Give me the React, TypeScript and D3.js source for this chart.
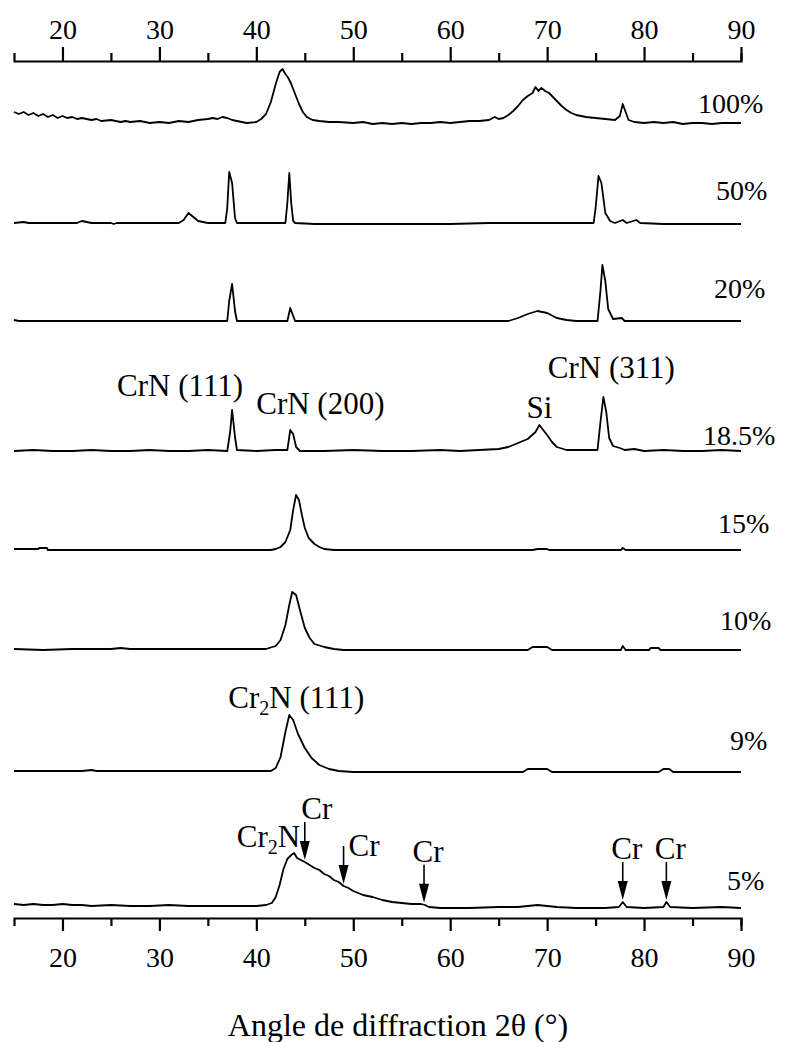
import React, { useEffect, useRef } from "react";
import * as d3 from "d3";

// diffraction angle range (2θ, degrees)
const angleDomain = [15, 90];
const majorTicks = [20, 30, 40, 50, 60, 70, 80, 90];
const minorTicks = [25, 35, 45, 55, 65, 75, 85];

const sampleLabels = ["100%", "50%", "20%", "18.5%", "15%", "10%", "9%", "5%"];

// [2θ, intensity (a.u.)]
const scan100: [number, number][] = [
  [15, 12], [15.5, 10], [16, 12], [16.5, 9], [17, 11], [17.5, 8], [18, 10], [18.5, 7], [19, 9], [19.5, 6],
  [20, 8], [20.5, 6], [21, 7], [21.5, 5], [22, 6], [23, 4], [23.5, 5], [24, 3], [25, 4], [26, 2],
  [26.5, 3], [27, 2], [28, 3], [29, 1], [30, 2], [31, 1], [32, 3], [33, 2], [34, 4], [35, 5],
  [35.5, 6], [36, 5], [36.5, 7], [37, 6], [37.5, 4], [38, 3], [39, 1], [40, 2], [40.5, 5], [41, 10],
  [41.5, 22], [42, 40], [42.4, 52], [42.7, 55], [43, 50], [43.3, 46], [43.6, 40], [44, 30], [44.4, 20], [44.8, 12],
  [45.2, 7], [45.8, 4], [46.5, 3], [47.5, 2], [48.5, 2], [50, 1], [51, 2], [52, 0], [53, 1], [54, 0],
  [55, 1], [56, 0], [57, 1], [58, 1], [59, 2], [60, 1], [61, 2], [62, 3], [63, 3], [64, 4],
  [64.6, 7], [65, 5], [65.5, 6], [66, 9], [66.5, 13], [67, 18], [67.5, 24], [68, 28], [68.5, 31], [68.8, 37],
  [69.1, 33], [69.4, 36], [69.8, 33], [70.2, 31], [70.6, 27], [71, 23], [71.5, 18], [72, 14], [72.5, 11], [73, 9],
  [73.5, 8], [74, 7], [75, 6], [76, 5], [77, 4], [77.5, 8], [77.8, 20], [78.1, 12], [78.4, 4], [79, 2],
  [80, 1], [81, 2], [82, 1], [83, 2], [84, 0], [85, 1], [86, 1], [87, 0], [88, 1], [89, 1], [90, 1],
];
const scan50: [number, number][] = [
  [15, 0], [16, 1], [16.5, 0], [21.5, 0], [22, 2], [22.5, 1], [23, 0], [25, 0], [25.3, -1], [25.6, 0],
  [32, 0], [32.5, 3], [33, 10], [33.5, 6], [34, 2], [35, 0], [36.8, 0], [37, 15], [37.2, 51], [37.5, 40],
  [37.8, 5], [38, 0], [43, 0], [43.2, 20], [43.4, 50], [43.6, 20], [43.8, 2], [44, 0], [46, -1], [50, -1],
  [60, -1], [64, 0], [66, 0], [74.8, 0], [75, 15], [75.3, 47], [75.6, 40], [76, 10], [76.5, 2], [77, 0],
  [77.8, 3], [78.2, 0], [79.2, 3], [79.6, 0], [82, -1], [86, -1], [90, -1],
];
const scan20: [number, number][] = [
  [15, 1], [15.5, 0], [37, 0], [37.2, 20], [37.5, 37], [37.8, 10], [38, 0], [43.2, 0], [43.5, 13], [43.8, 5],
  [44, 0], [66, 0], [67, 3], [68, 7], [69, 10], [70, 8], [71, 3], [72, 1], [73, 0], [75.2, 0],
  [75.5, 30], [75.7, 56], [76, 40], [76.3, 12], [76.8, 2], [77.7, 3], [78, 0], [90, 0],
];
const scan18: [number, number][] = [
  [15, 1], [17, 2], [19, 1], [21, 1], [23, 2], [25, 1], [27, 1], [29, 2], [31, 1], [33, 1],
  [35, 2], [37, 1], [37.3, 20], [37.5, 42], [37.8, 15], [38, 2], [40, 1], [42, 2], [43.2, 2], [43.5, 22],
  [43.8, 18], [44.1, 5], [44.5, 1], [47, 1], [50, 2], [53, 1], [56, 1], [59, 2], [61, 1], [63, 2],
  [65, 3], [66, 5], [67, 9], [68, 13], [68.8, 20], [69.2, 27], [69.6, 22], [70, 17], [70.5, 10], [71, 5],
  [72, 2], [75.2, 2], [75.5, 30], [75.8, 55], [76.1, 40], [76.4, 14], [76.8, 6], [77.5, 4], [78, 2], [79, 3],
  [80, 1], [82, 2], [84, 1], [86, 1], [88, 2], [90, 1],
];
const scan15: [number, number][] = [
  [15, 1], [17.5, 1], [17.6, 2], [18.4, 2], [18.5, 0], [41.5, 0], [42, 1], [42.5, 3], [43, 8], [43.5, 20],
  [43.8, 40], [44.1, 55], [44.4, 50], [44.7, 35], [45, 22], [45.4, 12], [46, 6], [46.5, 3], [47, 1], [48, 0],
  [68.5, 0], [69, 1], [70, 1], [70.2, 0], [77.6, 0], [77.8, 2], [78.1, 0], [90, 0],
];
const scan10: [number, number][] = [
  [15, 1], [18, 0], [21, 1], [25, 1], [26, 2], [27, 1], [35, 1], [41, 1], [42, 4], [42.5, 10],
  [43, 25], [43.4, 45], [43.7, 58], [44.1, 55], [44.5, 40], [45, 22], [45.5, 12], [46, 6], [47, 3], [48, 1],
  [49, 0], [68, 0], [68.5, 3], [70, 3], [70.5, 0], [77.6, 0], [77.8, 4], [78.1, 0], [80.5, 0], [80.7, 2],
  [81.5, 2], [81.7, 0], [90, 0],
];
const scan9: [number, number][] = [
  [15, 1], [22, 1], [23, 2], [23.5, 1], [41.5, 1], [42, 4], [42.5, 15], [43, 40], [43.4, 57], [43.8, 52],
  [44.3, 38], [45, 24], [45.7, 14], [46.5, 7], [47.5, 3], [48.5, 1], [50, 0], [67.5, 0], [68, 3], [70, 3],
  [70.5, 0], [81.5, 0], [82, 3], [82.6, 3], [83, 0], [90, 0],
];
const scan5: [number, number][] = [
  [15, 3], [16, 2], [17, 3], [18, 2], [19, 2], [20, 3], [21, 2], [22, 2], [23, 1], [25, 2],
  [27, 1], [29, 1], [31, 2], [33, 1], [35, 1], [37, 1], [39, 1], [40, 1], [41, 2], [41.6, 4],
  [42, 10], [42.4, 22], [42.8, 38], [43.2, 48], [43.6, 52], [43.9, 54], [44.2, 49], [44.6, 47], [45, 45], [45.5, 42],
  [46, 39], [46.5, 37], [47, 33], [47.5, 31], [48, 27], [48.5, 25], [49, 21], [49.5, 19], [50, 16], [50.5, 14],
  [51, 12], [51.5, 11], [52, 10], [53, 7], [54, 5], [55, 4], [56, 3], [57, 3], [57.4, 2], [57.8, 0],
  [59, -1], [62, -1], [65, 0], [67, 0], [68, 1], [69, 2], [70, 1], [71, 0], [73, -1], [76, -1],
  [77.4, 0], [77.8, 5], [78.2, 0], [80, -1], [82, 0], [82.3, 5], [82.7, 0], [85, -1], [88, 0], [90, -1],
];
const scans = [scan100, scan50, scan20, scan18, scan15, scan10, scan9, scan5];

// Cr reflections marked on the 5% scan with arrows
const crArrowAngles = [45, 49, 57.3, 77.8, 82.3];

// layout
const W = 785;
const H = 1042;
const xLeft = 14;
const xRight = 741;
const topAxisY = 61;
const bottomAxisY = 918;
const baselines = [124, 223, 321, 452, 550, 650, 772, 907];
const labelX = [698, 716, 714, 703, 718, 720, 730, 727];
const labelDy = [-11, -23, -23, -7, -17, -20, -22, -17];
const FONT = "'Liberation Serif', 'Times New Roman', serif";

export default function App() {
  const topRef = useRef<SVGGElement>(null);
  const bottomRef = useRef<SVGGElement>(null);

  const x = d3.scaleLinear().domain(angleDomain).range([xLeft, xRight]);
  const amp = d3.scaleLinear().domain([0, 100]).range([0, -100]);
  const line = d3
    .line<[number, number]>()
    .x((d) => x(d[0]))
    .y((d) => amp(d[1]));

  useEffect(() => {
    document.body.style.margin = "0";
    const style = (g: d3.Selection<SVGGElement, unknown, null, undefined>) => {
      g.select(".domain").attr("stroke-width", 2.2);
      g.selectAll(".tick line").attr("stroke-width", 2.2);
      g.selectAll("text").attr("font-family", FONT).attr("font-size", 28).attr("fill", "#000");
    };
    const minor = (g: d3.Selection<SVGGElement, unknown, null, undefined>) => {
      g.select(".domain").remove();
      g.selectAll(".tick line").attr("stroke-width", 2.2);
    };
    const top = d3.select(topRef.current!);
    top.selectAll("*").remove();
    top.append("g").call(
      d3.axisTop(x).tickValues(majorTicks).tickSize(14).tickSizeOuter(8).tickPadding(8).tickFormat(d3.format("d"))
    ).call(style);
    top.append("g").call(d3.axisTop(x).tickValues(minorTicks).tickSize(8).tickFormat(() => "")).call(minor);

    const bottom = d3.select(bottomRef.current!);
    bottom.selectAll("*").remove();
    bottom.append("g").call(
      d3.axisBottom(x).tickValues(majorTicks).tickSize(13).tickSizeOuter(8).tickPadding(16).tickFormat(d3.format("d"))
    ).call(style);
    bottom.append("g").call(d3.axisBottom(x).tickValues(minorTicks).tickSize(8).tickFormat(() => "")).call(minor);
  }, []);

  // intensity of the 5% scan at a given angle, for the arrow tips
  const bis = d3.bisector((d: [number, number]) => d[0]).left;
  const valueAt = (s: [number, number][], a: number) => {
    const i = Math.max(1, Math.min(s.length - 1, bis(s, a)));
    const p = s[i - 1], q = s[i];
    return p[1] + ((q[1] - p[1]) * (a - p[0])) / (q[0] - p[0]);
  };
  const last = scans.length - 1;

  const labelStyle = { fontFamily: FONT, fontSize: 28, fill: "#000" } as const;
  const noteStyle = { fontFamily: FONT, fontSize: 31, fill: "#000" } as const;

  return (
    <svg width={W} height={H} style={{ display: "block", background: "#fff" }}>
      <g ref={topRef} transform={`translate(0,${topAxisY})`} />
      <g ref={bottomRef} transform={`translate(0,${bottomAxisY})`} />

      {scans.map((s, i) => (
        <g key={i} transform={`translate(0,${baselines[i]})`}>
          <path d={line(s) ?? ""} fill="none" stroke="#000" strokeWidth={1.8} strokeLinejoin="round" />
          <text x={labelX[i]} y={labelDy[i]} style={labelStyle}>{sampleLabels[i]}</text>
        </g>
      ))}

      {/* peak assignments */}
      <g style={noteStyle}>
        <text x={x(37.5)} y={baselines[3] - 56} textAnchor="end" dx={11}>CrN (111)</text>
        <text x={x(43.6)} y={baselines[3] - 38} dx={-35}>CrN (200)</text>
        <text x={x(69.2)} y={baselines[3] - 34} textAnchor="middle">Si</text>
        <text x={x(75.8)} y={baselines[3] - 74} textAnchor="middle" dx={8}>CrN (311)</text>
        <text x={x(43.5)} y={baselines[6] - 64} textAnchor="middle" dx={6}>
          Cr<tspan fontSize={20} dy={7}>2</tspan><tspan dy={-7}>N (111)</tspan>
        </text>
        <text x={x(43.9)} y={baselines[last] - 60} textAnchor="end" dx={6}>
          Cr<tspan fontSize={20} dy={7}>2</tspan><tspan dy={-7}>N</tspan>
        </text>
      </g>

      {crArrowAngles.map((a, i) => {
        const tipY = baselines[last] + amp(valueAt(scan5, a)) - 2;
        const cx = x(a);
        const len = 38;
        const side = i === 1;
        return (
          <g key={a}>
            <line x1={cx} x2={cx} y1={tipY - len} y2={tipY - 12} stroke="#000" strokeWidth={1.6} />
            <path d={`M${cx - 5},${tipY - 19}L${cx + 5},${tipY - 19}L${cx},${tipY}Z`} fill="#000" />
            <text
              x={side ? cx + 5 : cx + (i === 0 ? 12 : 4)}
              y={side ? tipY - len + 10 : tipY - len - 3}
              textAnchor={side ? "start" : "middle"}
              style={noteStyle}
            >
              Cr
            </text>
          </g>
        );
      })}

      <text x={398} y={1036} textAnchor="middle" style={{ ...noteStyle, fontSize: 32 }}>
        Angle de diffraction 2θ (°)
      </text>
    </svg>
  );
}
